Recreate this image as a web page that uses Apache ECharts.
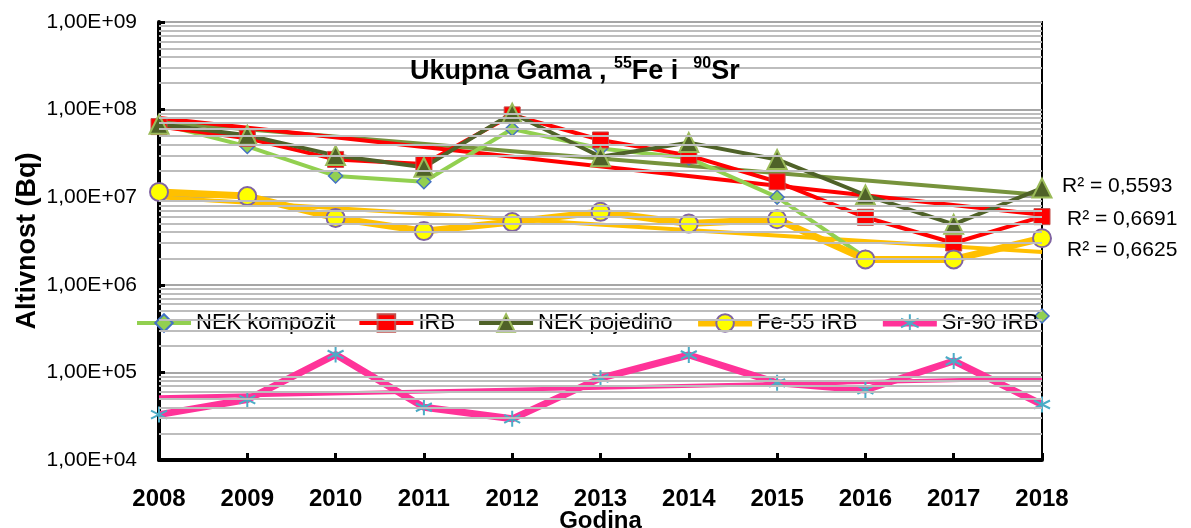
<!DOCTYPE html>
<html>
<head>
<meta charset="utf-8">
<script src="https://cdn.jsdelivr.net/npm/echarts@6/dist/echarts.min.js"></script>
<style>
  html, body { margin: 0; padding: 0; background: #ffffff; }
  #chart { width: 1191px; height: 528px; }
</style>
</head>
<body>
<div id="chart"></div>
<script>
// Godišnje aktivnosti (Bq), 2008–2018
const years = ['2008', '2009', '2010', '2011', '2012', '2013', '2014', '2015', '2016', '2017', '2018'];

const nekKompozit = [6.9e7, 3.8e7, 1.75e7, 1.5e7, 6.0e7, 3.6e7, 2.8e7, 1.0e7, 2.05e6, null, 4.4e5];
const irb         = [6.4e7, 4.7e7, 2.7e7, 2.4e7, 8.7e7, 4.5e7, 3.0e7, 1.5e7, 5.9e6, 3.0e6, 6.0e6];
const nekPojedino = [6.8e7, 5.1e7, 3.0e7, 2.2e7, 9.1e7, 2.9e7, 4.2e7, 2.7e7, 1.06e7, 4.9e6, 1.27e7];
const fe55Irb     = [1.15e7, 1.03e7, 5.8e6, 4.1e6, 5.2e6, 6.8e6, 5.0e6, 5.6e6, 1.95e6, 1.95e6, 3.4e6];
const sr90Irb     = [3.3e4, 4.9e4, 1.6e5, 4.0e4, 2.95e4, 8.6e4, 1.58e5, 7.6e4, 6.3e4, 1.35e5, 4.3e4];

// Exponential trend lines: values at 2008 and 2018 (straight on the log axis)
const irbTrend  = [8.0e7, 6.3e6];
const nekTrend  = [7.2e7, 1.06e7];
const fe55Trend = [1.0e7, 2.37e6];
const sr90Trend = [5.2e4, 8.6e4];

const r2Labels = ['R² = 0,5593', 'R² = 0,6691', 'R² = 0,6625'];

// Minor log gridlines: 2..9 × each decade between 1E+04 and 1E+09
const minorGridValues = [];
for (let e = 4; e < 9; e++) {
  for (let m = 2; m <= 9; m++) minorGridValues.push(m * Math.pow(10, e));
}

function trendData(ends) {
  return years.map((y, i) => i === 0 ? ends[0] : (i === years.length - 1 ? ends[1] : null));
}

const FONT = '"Liberation Sans", Arial, sans-serif';
const asterisk = 'path://M5,0L5,10M0.67,2.5L9.33,7.5M0.67,7.5L9.33,2.5';

const chart = echarts.init(document.getElementById('chart'), null, { renderer: 'canvas' });

const trendBase = {
  type: 'line',
  showSymbol: false,
  symbol: 'none',
  connectNulls: true,
  silent: true,
  z: 2
};

chart.setOption({
  animation: false,
  backgroundColor: '#ffffff',
  textStyle: { fontFamily: FONT },
  title: {
    text: '{b|Ukupna Gama , }{s|55}{b|Fe i  }{s|90}{b|Sr}',
    left: 405,
    top: 51,
    textStyle: {
      rich: {
        b: { fontFamily: FONT, fontSize: 27, fontWeight: 'bold', color: '#000', lineHeight: 32 },
        s: { fontFamily: FONT, fontSize: 16, fontWeight: 'bold', color: '#000', lineHeight: 19, verticalAlign: 'top' }
      }
    }
  },
  legend: {
    data: ['NEK kompozit', 'IRB', 'NEK pojedino', 'Fe-55 IRB', 'Sr-90 IRB'],
    left: 130,
    top: 307,
    itemWidth: 54,
    itemHeight: 22,
    itemGap: 22,
    lineStyle: { width: 'inherit' },
    textStyle: { fontFamily: FONT, fontSize: 22, color: '#000' }
  },
  grid: {
    left: 159,
    right: 149,
    top: 22,
    bottom: 68,
    containLabel: false,
    outerBoundsMode: 'none',
    show: true,
    borderColor: '#000',
    borderWidth: 2,
    backgroundColor: 'transparent'
  },
  xAxis: {
    type: 'category',
    data: years,
    boundaryGap: false,
    name: 'Godina',
    nameLocation: 'middle',
    nameGap: 49,
    nameMoveOverlap: false,
    nameTextStyle: { fontFamily: FONT, fontSize: 24, fontWeight: 'bold', color: '#000', verticalAlign: 'top' },
    axisLine: { lineStyle: { color: '#000', width: 4 } },
    axisTick: { inside: true, length: 7, lineStyle: { color: '#000', width: 3 } },
    axisLabel: { margin: 27, fontFamily: FONT, fontSize: 24, fontWeight: 'bold', color: '#000' },
    splitLine: { show: false }
  },
  yAxis: {
    type: 'log',
    logBase: 10,
    min: 1e4,
    max: 1e9,
    name: 'Altivnost (Bq)',
    nameLocation: 'middle',
    nameGap: 118,
    nameMoveOverlap: false,
    nameTextStyle: { fontFamily: FONT, fontSize: 27, fontWeight: 'bold', color: '#000' },
    axisLine: { show: true, lineStyle: { color: '#000', width: 4 } },
    axisTick: { show: true, inside: true, length: 6, lineStyle: { color: '#000', width: 3 } },
    axisLabel: {
      margin: 22,
      fontFamily: FONT,
      fontSize: 21,
      color: '#000',
      formatter: v => '1,00E+' + String(Math.round(Math.log10(v))).padStart(2, '0')
    },
    splitLine: { show: true, lineStyle: { color: '#a6a6a6', width: 2 } }
  },
  graphic: r2Labels.map((t, i) => ({
    type: 'text',
    left: [1062, 1067, 1067][i],
    top: [176, 209, 240][i],
    style: { text: t, fontFamily: FONT, fontSize: 21, fill: '#000' }
  })),
  series: [
    {
      // minor log gridlines
      type: 'line',
      data: [],
      silent: true,
      z: 1,
      markLine: {
        silent: true,
        symbol: ['none', 'none'],
        label: { show: false },
        lineStyle: { color: '#bdbdbd', width: 2, type: 'solid' },
        emphasis: { disabled: true },
        data: minorGridValues.map(v => ({ yAxis: v }))
      }
    },
    Object.assign({}, trendBase, {
      name: 'trend NEK pojedino',
      data: trendData(nekTrend),
      lineStyle: { color: '#77933C', width: 4 }
    }),
    Object.assign({}, trendBase, {
      name: 'trend IRB',
      data: trendData(irbTrend),
      lineStyle: { color: '#FF0000', width: 4 }
    }),
    Object.assign({}, trendBase, {
      name: 'trend Fe-55',
      data: trendData(fe55Trend),
      lineStyle: { color: '#FFC000', width: 4 }
    }),
    Object.assign({}, trendBase, {
      name: 'trend Sr-90',
      data: trendData(sr90Trend),
      lineStyle: { color: '#FF3399', width: 4 }
    }),
    {
      name: 'NEK kompozit',
      type: 'line',
      data: nekKompozit,
      z: 3,
      symbol: 'diamond',
      symbolSize: 14,
      showAllSymbol: true,
      connectNulls: false,
      itemStyle: { color: '#92D050', borderColor: '#4472C4', borderWidth: 1.5 },
      lineStyle: { color: '#92D050', width: 4, join: 'round' }
    },
    {
      name: 'IRB',
      type: 'line',
      data: irb,
      z: 3,
      symbol: 'rect',
      symbolSize: 16,
      showAllSymbol: true,
      itemStyle: { color: '#FF0000', borderColor: '#C0504D', borderWidth: 1 },
      lineStyle: { color: '#FF0000', width: 4, join: 'round' }
    },
    {
      name: 'NEK pojedino',
      type: 'line',
      data: nekPojedino,
      z: 3,
      symbol: 'triangle',
      symbolSize: 19,
      showAllSymbol: true,
      itemStyle: { color: '#4F6228', borderColor: '#9BBB59', borderWidth: 2 },
      lineStyle: { color: '#4F6228', width: 4, join: 'round' }
    },
    {
      name: 'Fe-55 IRB',
      type: 'line',
      data: fe55Irb,
      z: 3,
      symbol: 'circle',
      symbolSize: 18,
      showAllSymbol: true,
      itemStyle: { color: '#FFFF00', borderColor: '#8064A2', borderWidth: 2 },
      lineStyle: { color: '#FFC000', width: 7, join: 'round' }
    },
    {
      name: 'Sr-90 IRB',
      type: 'line',
      data: sr90Irb,
      z: 3,
      symbol: asterisk,
      symbolSize: 16,
      showAllSymbol: true,
      itemStyle: { color: '#4BACC6', borderColor: '#4BACC6', borderWidth: 2 },
      lineStyle: { color: '#FF3399', width: 7, join: 'round' }
    }
  ]
});
</script>
</body>
</html>
